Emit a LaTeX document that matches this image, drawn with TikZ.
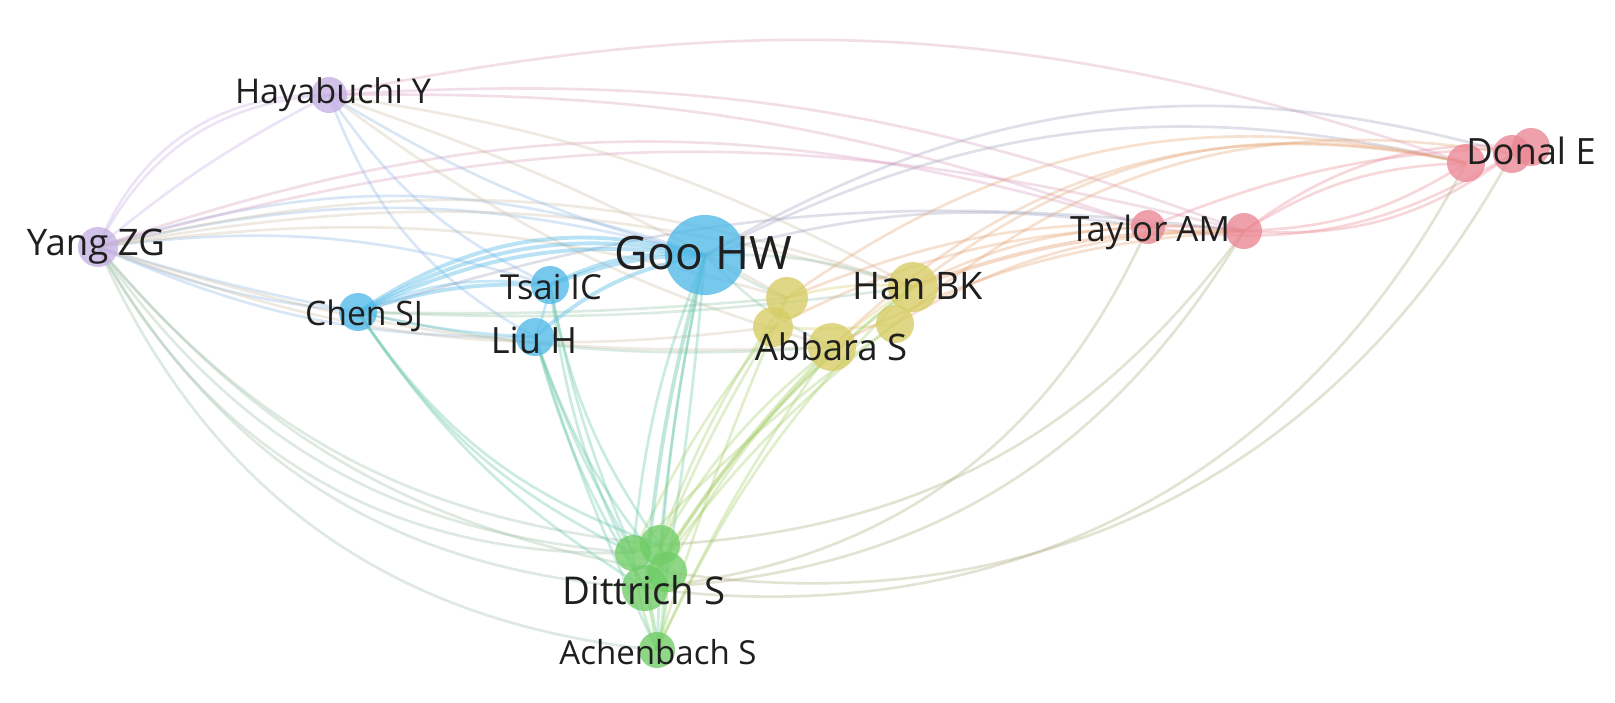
\documentclass[tikz,border=0pt]{standalone}
\usepackage{fontspec}
\setmainfont{Open Sans}
\pgfdeclarelayer{bg}
\pgfsetlayers{bg,main}
\definecolor{blueN}{RGB}{80,185,232}
\definecolor{yellowN}{RGB}{215,205,100}
\definecolor{greenN}{RGB}{112,205,102}
\definecolor{redN}{RGB}{235,135,148}
\definecolor{purpN}{RGB}{198,176,228}
\colorlet{mixPB}{purpN!50!blueN}
\colorlet{mixPY}{purpN!50!yellowN}
\colorlet{mixPR}{purpN!50!redN}
\colorlet{mixPG}{purpN!50!greenN}
\colorlet{mixBG}{blueN!50!greenN}
\colorlet{mixBY}{blueN!50!yellowN}
\colorlet{mixBR}{blueN!50!redN}
\colorlet{mixYG}{yellowN!50!greenN}
\colorlet{mixYR}{yellowN!45!redN!90!orange}
\colorlet{mixRG}{redN!50!greenN}
\tikzset{
  nd/.style={circle, inner sep=0pt, minimum size=#1, fill opacity=0.78},
  lab/.style={text=black!88, inner sep=0pt},
  edge/.style={line width=0.75pt, draw opacity=0.33},
  thick edge/.style={line width=1.1pt, draw opacity=0.4}
}
\newcommand{\fs}[1]{\fontsize{#1}{#1}\selectfont}
\begin{document}
\begin{tikzpicture}[x=0.01cm,y=-0.01cm]
\useasboundingbox (0,0) rectangle (1615,702);
% nodes
\node[nd=0.80cm, fill=blueN] (goo) at (705,255) {};
\node[nd=0.38cm, fill=blueN] (tsai) at (550,285) {};
\node[nd=0.38cm, fill=blueN] (liu) at (535,337) {};
\node[nd=0.38cm, fill=blueN] (chen) at (358,312) {};
\node[nd=0.40cm, fill=purpN] (yang) at (98,247) {};
\node[nd=0.36cm, fill=purpN] (haya) at (329,95) {};
\node[nd=0.42cm, fill=yellowN] (ya) at (787,298) {};
\node[nd=0.40cm, fill=yellowN] (yb) at (773,327) {};
\node[nd=0.48cm, fill=yellowN] (abb) at (832,347) {};
\node[nd=0.50cm, fill=yellowN] (han) at (913,287) {};
\node[nd=0.38cm, fill=yellowN] (yc) at (895,324) {};
\node[nd=0.34cm, fill=redN] (ta1) at (1148,227) {};
\node[nd=0.36cm, fill=redN] (ta2) at (1244,231) {};
\node[nd=0.38cm, fill=redN] (d1) at (1466,163) {};
\node[nd=0.38cm, fill=redN] (d2) at (1512,154) {};
\node[nd=0.38cm, fill=redN] (d3) at (1531,147) {};
\node[nd=0.36cm, fill=greenN] (g1) at (633,553) {};
\node[nd=0.40cm, fill=greenN] (g2) at (660,545) {};
\node[nd=0.40cm, fill=greenN] (g3) at (667,572) {};
\node[nd=0.46cm, fill=greenN] (dit) at (645,588) {};
\node[nd=0.36cm, fill=greenN] (ach) at (657,650) {};
% edges
\begin{pgfonlayer}{bg}
\fill[white] (0,0) rectangle (1615,702);
\foreach \a/\b/\c/\bd in {
 yang/haya/purpN/30, yang/haya/purpN/35, yang/haya/purpN/6,
 yang/goo/mixPB/18, yang/goo/mixPB/14, yang/tsai/mixPB/12,
 yang/chen/mixPB/-8, yang/chen/mixPB/-3, yang/liu/mixPB/-12,
 yang/han/mixPY/16, yang/han/mixPY/13, yang/abb/mixPY/-10,
 yang/ya/mixPY/12, yang/yb/mixPY/-14, yang/ta1/mixPR/18, yang/ta2/mixPR/15,
 yang/g1/mixPG/-25, yang/g2/mixPG/-22, yang/dit/mixPG/-28, yang/g3/mixPG/-20,
 yang/ach/mixPG/-30, yang/g1/mixPG/-31,
 haya/goo/mixPB/-8, haya/tsai/mixPB/-15, haya/liu/mixPB/-20,
 haya/han/mixPY/10, haya/abb/mixPY/-10, haya/ya/mixPY/5,
 haya/d1/mixPR/15, haya/ta2/mixPR/12, haya/ta1/mixPR/10,
 chen/tsai/blueN/15, chen/liu/blueN/-5,
 chen/g1/mixBG/-15, chen/dit/mixBG/-12, chen/g2/mixBG/-18,
 chen/abb/mixBY/-8, chen/han/mixBY/-5, chen/ya/mixBY/-3,
 tsai/liu/blueN/5,
 tsai/dit/mixBG/-10, tsai/g2/mixBG/-12, tsai/g1/mixBG/-6,
 liu/dit/mixBG/-8, liu/g1/mixBG/-5, liu/g3/mixBG/-10, liu/ach/mixBG/-4,
 goo/g2/mixBG/-3, goo/g1/mixBG/-8, goo/g3/mixBG/2,
 goo/ach/mixBG/-5, goo/han/mixBY/10, goo/abb/mixBY/-10, goo/ya/mixBY/-5,
 goo/ta1/mixBR/12, goo/d1/mixBR/20, goo/d2/mixBR/23,
 ya/han/yellowN/10, abb/han/yellowN/5, yb/yc/yellowN/-5,
 ya/dit/mixYG/-8, yb/dit/mixYG/-5, abb/g2/mixYG/-10,
 han/dit/mixYG/-10, han/g3/mixYG/-12, yc/dit/mixYG/-8, yc/g1/mixYG/-5,
 abb/ach/mixYG/-5, han/ach/mixYG/-10, ya/ach/mixYG/-3, yb/g1/mixYG/-6,
 han/ta1/mixYR/12, abb/ta2/mixYR/12, ya/ta2/mixYR/14,
 yc/ta2/mixYR/15, yb/ta1/mixYR/12,
 han/d1/mixYR/25, abb/d1/mixYR/28, yc/d2/mixYR/25, ya/d1/mixYR/24,
 ta1/ta2/redN/5, ta2/d1/redN/15, ta2/d1/redN/-15, ta1/d2/redN/-20,
 ta1/d3/redN/10, ta2/d2/redN/-20, ta2/d3/redN/20,
 ta1/dit/mixRG/30, ta2/dit/mixRG/28, ta2/g2/mixRG/25,
 d1/dit/mixRG/35, d2/g3/mixRG/35, ta2/chen/mixBR/-12,
 g1/g2/greenN/5, g2/g3/greenN/5,
 g1/ach/greenN/-8, g3/ach/greenN/8, g2/ach/greenN/10}
 \draw[edge, draw=\c] (\a.center) to[bend left=\bd] (\b.center);
\foreach \a/\b/\c/\bd in {
 chen/goo/blueN/20, chen/goo/blueN/16, chen/goo/blueN/24,
 chen/tsai/blueN/10, tsai/goo/blueN/15, tsai/goo/blueN/10,
 liu/goo/blueN/15, goo/dit/mixBG/-5, abb/dit/mixYG/-6,
 han/ta2/mixYR/10, dit/ach/greenN/5}
 \draw[thick edge, draw=\c] (\a.center) to[bend left=\bd] (\b.center);
\end{pgfonlayer}
% labels
\node[lab, font=\fs{13.1pt}] (lgoo) at (703,253) {Goo HW};
\node[lab, font=\fs{9.8pt}] (ltsai) at (551,287) {Tsai IC};
\node[lab, font=\fs{10.3pt}] (lliu) at (534,340) {Liu H};
\node[lab, font=\fs{9.6pt}] (lchen) at (364,316) {Chen SJ};
\node[lab, font=\fs{10.4pt}] (lyang) at (96,247) {Yang ZG};
\node[lab, font=\fs{9.7pt}] (lhaya) at (333,95) {Hayabuchi Y};
\node[lab, font=\fs{10.8pt}] (lhan) at (918,286) {Han BK};
\node[lab, font=\fs{10.4pt}] (labb) at (831,347) {Abbara S};
\node[lab, font=\fs{9.9pt}] (ltay) at (1150,232) {Taylor AM};
\node[lab, font=\fs{10.3pt}] (ldon) at (1531,151) {Donal E};
\node[lab, font=\fs{10.9pt}] (ldit) at (644,590) {Dittrich S};
\node[lab, font=\fs{9.4pt}] (lach) at (658,652) {Achenbach S};
\end{tikzpicture}
\end{document}
